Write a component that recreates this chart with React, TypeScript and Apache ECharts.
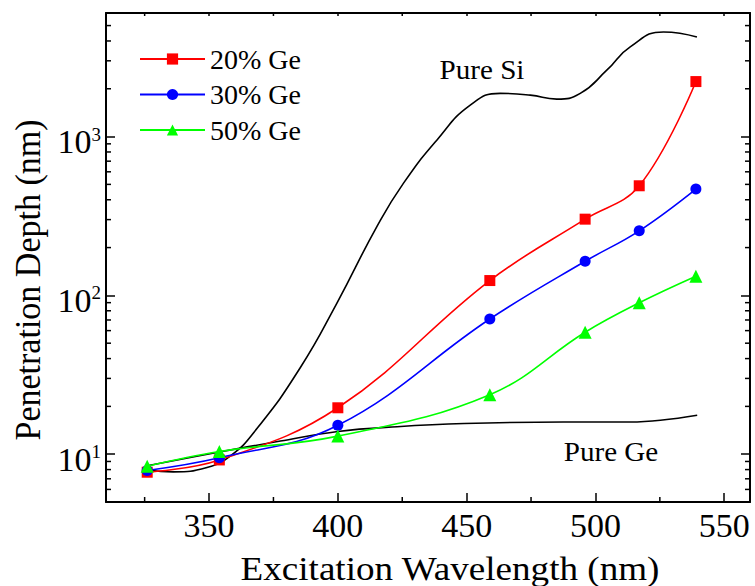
import React, { useEffect, useRef } from "react";
import * as echarts from "echarts";

const FONT = "Liberation Serif";

const wavelengths = [326, 354, 400, 459, 496, 517, 539];
const ge20 = [7.7, 9.2, 19.6, 124, 302, 490, 2220];
const ge30 = [7.9, 9.5, 15.2, 71, 164, 255, 467];
const ge50 = [8.4, 10.4, 13.0, 23.7, 58.6, 89.8, 132];

const pureSiX = [326.4, 336.1, 349.2, 358.3, 368.6, 385.4, 399.7, 415.2, 425.5, 438.5, 451.4, 463, 474.7, 485, 494.1, 504.4, 513.5, 526.4, 539.4];
const pureSiY = [7.96, 7.74, 8.25, 9.75, 14.5, 35, 89.8, 272, 509, 953, 1578, 1871, 1824, 1722, 1871, 2618, 3673, 4560, 4236];

const pureGeX = [326, 353, 377.7, 400, 423, 449, 487.5, 513.5, 539.5];
const pureGeY = [8.45, 10.25, 12.1, 13.9, 14.9, 15.6, 15.96, 15.96, 17.6];

const xMinorTicks = [325, 375, 425, 475, 525];
const yMinorTicks = [6, 7, 8, 9, 20, 30, 40, 50, 60, 70, 80, 90, 200, 300, 400, 500, 600, 700, 800, 900, 2000, 3000, 4000, 5000];

const X_MIN = 310;
const X_MAX = 560;
const Y_MIN = 5;
const Y_MAX = 6000;

const zip = (xs: number[], ys: number[]) => xs.map((x, i) => [x, ys[i]]);

export default function App() {
  const ref = useRef<HTMLDivElement>(null);
  useEffect(() => {
    if (!ref.current) return;
    const chart = echarts.init(ref.current, undefined, { renderer: "svg" });
    const tickStyle = { color: "#000", width: 1.5 };
    const axisLine = { show: true, lineStyle: { color: "#000", width: 2 } };
    const markerLine = (name: string, color: string, symbol: string, size: number, ys: number[]) => ({
      name,
      type: "line",
      data: zip(wavelengths, ys),
      smooth: 0.4,
      symbol,
      symbolSize: size,
      showSymbol: true,
      lineStyle: { color, width: 1.6 },
      itemStyle: { color },
      z: 5,
    });
    const option: any = {
      animation: false,
      backgroundColor: "#fff",
      textStyle: { fontFamily: FONT },
      grid: { left: 106, right: 5, top: 13, bottom: 84, containLabel: false },
      xAxis: [
        {
          type: "value",
          min: X_MIN,
          max: X_MAX,
          splitNumber: 5,
          position: "bottom",
          axisLine,
          axisTick: { show: true, inside: true, length: 9, lineStyle: tickStyle },
          axisLabel: {
            margin: 6,
            fontSize: 34,
            fontFamily: FONT,
            color: "#000",
            formatter: (v: number) => (Math.abs(v % 50) < 1e-6 ? String(v) : ""),
          },
          splitLine: { show: false },
        },
        {
          type: "value",
          min: X_MIN,
          max: X_MAX,
          splitNumber: 5,
          position: "top",
          axisLine,
          axisTick: { show: true, inside: true, length: 3, lineStyle: tickStyle },
          axisLabel: { show: false },
          splitLine: { show: false },
        },
      ],
      yAxis: [
        {
          type: "log",
          logBase: 10,
          min: Y_MIN,
          max: Y_MAX,
          position: "left",
          axisLine,
          axisTick: { show: true, inside: true, length: 9, lineStyle: tickStyle },
          axisLabel: {
            margin: 5,
            color: "#000",
            padding: [10, 0, 0, 0],
            formatter: (v: number) => {
              const e = Math.round(Math.log10(v));
              return Math.abs(Math.pow(10, e) - v) < 1e-6 * v ? `{b|10}{s|${e}}` : "";
            },
            rich: {
              b: { fontSize: 34, fontFamily: FONT, color: "#000" },
              s: { fontSize: 19, fontFamily: FONT, color: "#000", verticalAlign: "top" },
            },
          },
          splitLine: { show: false },
        },
        {
          type: "log",
          logBase: 10,
          min: Y_MIN,
          max: Y_MAX,
          position: "right",
          axisLine,
          axisTick: { show: true, inside: true, length: 9, lineStyle: tickStyle },
          axisLabel: { show: false },
          splitLine: { show: false },
        },
      ],
      legend: {
        data: ["20% Ge", "30% Ge", "50% Ge"],
        orient: "vertical",
        left: 139,
        top: 45,
        padding: 0,
        itemWidth: 65,
        itemHeight: 14,
        itemGap: 7.5,
        textStyle: { fontSize: 28, fontFamily: FONT, color: "#000", lineHeight: 28 },
      },
      series: [
        {
          name: "Pure Si",
          type: "line",
          data: zip(pureSiX, pureSiY),
          smooth: 0.5,
          showSymbol: false,
          symbol: "none",
          lineStyle: { color: "#000", width: 1.6 },
          z: 4,
        },
        {
          name: "Pure Ge",
          type: "line",
          data: zip(pureGeX, pureGeY),
          smooth: 0.4,
          showSymbol: false,
          symbol: "none",
          lineStyle: { color: "#000", width: 1.6 },
          z: 4,
        },
        markerLine("20% Ge", "#ff0000", "rect", 11, ge20),
        markerLine("30% Ge", "#0000ff", "circle", 11, ge30),
        markerLine("50% Ge", "#00ff00", "triangle", 13, ge50),
        {
          type: "custom",
          silent: true,
          data: xMinorTicks.map((v) => [v, 10]),
          renderItem: (params: any, api: any) => {
            const cs = params.coordSys;
            const p = api.coord([api.value(0), api.value(1)]);
            const bottom = cs.y + cs.height;
            return {
              type: "group",
              children: [
                { type: "line", shape: { x1: p[0], y1: bottom, x2: p[0], y2: bottom - 5 }, style: { stroke: "#000", lineWidth: 1.5 } },
                { type: "line", shape: { x1: p[0], y1: cs.y, x2: p[0], y2: cs.y + 3 }, style: { stroke: "#000", lineWidth: 1.5 } },
              ],
            };
          },
          z: 6,
        },
        {
          type: "custom",
          silent: true,
          data: yMinorTicks.map((v) => [400, v]),
          renderItem: (params: any, api: any) => {
            const cs = params.coordSys;
            const p = api.coord([api.value(0), api.value(1)]);
            const right = cs.x + cs.width;
            return {
              type: "group",
              children: [
                { type: "line", shape: { x1: cs.x, y1: p[1], x2: cs.x + 5, y2: p[1] }, style: { stroke: "#000", lineWidth: 1.5 } },
                { type: "line", shape: { x1: right, y1: p[1], x2: right - 5, y2: p[1] }, style: { stroke: "#000", lineWidth: 1.5 } },
              ],
            };
          },
          z: 6,
        },
      ],
      graphic: [
        {
          type: "text",
          x: 482,
          y: 70,
          scaleX: 1.04,
          style: { text: "Pure Si", fontSize: 28, fontFamily: FONT, fill: "#000", align: "center", verticalAlign: "middle" },
        },
        {
          type: "text",
          x: 611,
          y: 452,
          scaleX: 1.04,
          style: { text: "Pure Ge", fontSize: 28, fontFamily: FONT, fill: "#000", align: "center", verticalAlign: "middle" },
        },
        {
          type: "text",
          x: 450,
          y: 569,
          scaleX: 1.125,
          style: { text: "Excitation Wavelength (nm)", fontSize: 33, fontFamily: FONT, fill: "#000", align: "center", verticalAlign: "middle" },
        },
        {
          type: "text",
          x: 28,
          y: 280,
          rotation: Math.PI / 2,
          scaleY: 1.08,
          style: { text: "Penetration Depth (nm)", fontSize: 34, fontFamily: FONT, fill: "#000", align: "center", verticalAlign: "middle" },
        },
      ],
    };
    chart.setOption(option);
    return () => chart.dispose();
  }, []);
  return <div ref={ref} style={{ position: "fixed", left: 0, top: 0, width: 755, height: 586, background: "#fff" }} />;
}
